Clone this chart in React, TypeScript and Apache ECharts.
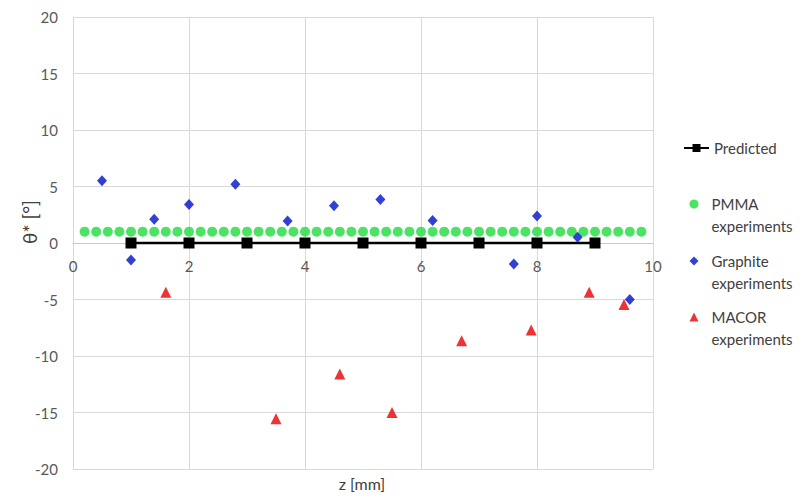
import React, { useEffect, useRef } from "react";
import * as echarts from "echarts";

const predictedZ = [1, 2, 3, 4, 5, 6, 7, 8, 9];
const predictedTheta = [0, 0, 0, 0, 0, 0, 0, 0, 0];

const pmmaZ = [
  0.2, 0.4, 0.6, 0.8, 1.0, 1.2, 1.4, 1.6, 1.8, 2.0,
  2.2, 2.4, 2.6, 2.8, 3.0, 3.2, 3.4, 3.6, 3.8, 4.0,
  4.2, 4.4, 4.6, 4.8, 5.0, 5.2, 5.4, 5.6, 5.8, 6.0,
  6.2, 6.4, 6.6, 6.8, 7.0, 7.2, 7.4, 7.6, 7.8, 8.0,
  8.2, 8.4, 8.6, 8.8, 9.0, 9.2, 9.4, 9.6, 9.8,
];
const pmmaTheta = [
  1, 1, 1, 1, 1, 1, 1, 1, 1, 1,
  1, 1, 1, 1, 1, 1, 1, 1, 1, 1,
  1, 1, 1, 1, 1, 1, 1, 1, 1, 1,
  1, 1, 1, 1, 1, 1, 1, 1, 1, 1,
  1, 1, 1, 1, 1, 1, 1, 1, 1,
];

const graphiteZ = [0.5, 1.0, 1.4, 2.0, 2.8, 3.7, 4.5, 5.3, 6.2, 7.6, 8.0, 8.7, 9.6];
const graphiteTheta = [5.5, -1.5, 2.1, 3.4, 5.2, 1.95, 3.3, 3.85, 2.0, -1.85, 2.4, 0.5, -5.0];

const macorZ = [1.6, 3.5, 4.6, 5.5, 6.7, 7.9, 8.9, 9.5];
const macorTheta = [-4.35, -15.55, -11.6, -15.0, -8.65, -7.7, -4.35, -5.45];

const xTicks = { min: 0, max: 10, interval: 2 };
const yTicks = { min: -20, max: 20, interval: 5 };

const seriesNames = ["Predicted", "PMMA\nexperiments", "Graphite\nexperiments", "MACOR\nexperiments"];

const FONT = "Lato, 'Open Sans', sans-serif";

function pairs(xs: number[], ys: number[]) {
  return xs.map((x, i) => [x, ys[i]]);
}

const L = 22;
const legendText = {
  color: "#404040",
  fontSize: 15,
  fontFamily: FONT,
  lineHeight: L,
};

function expLegend(name: string, center: number) {
  return {
    orient: "vertical",
    left: 689.5,
    top: center - 1.5 * L,
    padding: 0,
    itemWidth: 9,
    itemHeight: 9,
    formatter: (n: string) => "\n" + n,
    textStyle: { ...legendText, padding: [0, 0, 0, 8] },
    data: [name],
  };
}

export default function App() {
  const ref = useRef<HTMLDivElement>(null);
  useEffect(() => {
    if (!ref.current) return;
    const chart = echarts.init(ref.current, undefined, { renderer: "svg" });
    chart.setOption({
      animation: false,
      backgroundColor: "#ffffff",
      grid: { left: 73, right: 151, top: 17, bottom: 30, containLabel: false },
      xAxis: {
        type: "value",
        min: xTicks.min,
        max: xTicks.max,
        interval: xTicks.interval,
        offset: -226,
        axisLine: { show: true, onZero: false, lineStyle: { color: "#c8c8c8", width: 1 } },
        axisTick: { show: false },
        axisLabel: { color: "#595959", fontSize: 15, fontFamily: FONT, margin: 15 },
        splitLine: { show: true, lineStyle: { color: "#d9d9d9", width: 1 } },
      },
      yAxis: {
        type: "value",
        min: yTicks.min,
        max: yTicks.max,
        interval: yTicks.interval,
        axisLine: { show: true, lineStyle: { color: "#d9d9d9", width: 1 } },
        axisTick: { show: false },
        axisLabel: { color: "#595959", fontSize: 15, fontFamily: FONT, margin: 15 },
        splitLine: { show: true, lineStyle: { color: "#d9d9d9", width: 1 } },
      },
      graphic: [
        {
          type: "text",
          x: 362,
          y: 483,
          style: {
            text: "z [mm]",
            fill: "#404040",
            font: `16px ${FONT}`,
            textAlign: "center",
            textVerticalAlign: "middle",
          },
        },
        {
          type: "text",
          x: 29,
          y: 222,
          rotation: Math.PI / 2,
          style: {
            text: "θ* [°]",
            fill: "#404040",
            font: `19px ${FONT}`,
            textAlign: "center",
            textVerticalAlign: "middle",
          },
        },
      ],
      legend: [
        {
          orient: "vertical",
          left: 683,
          top: 148 - L / 2,
          padding: 0,
          itemWidth: 25,
          itemHeight: 10,
          textStyle: { ...legendText, padding: [0, 0, 0, 0] },
          data: [seriesNames[0]],
        },
        expLegend(seriesNames[1], 204),
        expLegend(seriesNames[2], 261),
        expLegend(seriesNames[3], 317),
      ],
      series: [
        {
          name: seriesNames[0],
          type: "line",
          data: pairs(predictedZ, predictedTheta),
          symbol: "rect",
          symbolSize: 11,
          itemStyle: { color: "#000000" },
          lineStyle: { color: "#000000", width: 2.5 },
          z: 3,
        },
        {
          name: seriesNames[1],
          type: "scatter",
          data: pairs(pmmaZ, pmmaTheta),
          symbol: "circle",
          symbolSize: 10,
          itemStyle: { color: "#1fdc3f" },
          z: 2,
        },
        {
          name: seriesNames[2],
          type: "scatter",
          data: pairs(graphiteZ, graphiteTheta),
          symbol: "diamond",
          symbolSize: [10, 11],
          itemStyle: { color: "#0010c8" },
          z: 4,
        },
        {
          name: seriesNames[3],
          type: "scatter",
          data: pairs(macorZ, macorTheta),
          symbol: "triangle",
          symbolSize: 11,
          itemStyle: { color: "#e80000" },
          z: 4,
        },
      ],
    });
    return () => chart.dispose();
  }, []);
  return (
    <div
      ref={ref}
      style={{ position: "absolute", left: 0, top: 0, width: 804, height: 499 }}
    />
  );
}
